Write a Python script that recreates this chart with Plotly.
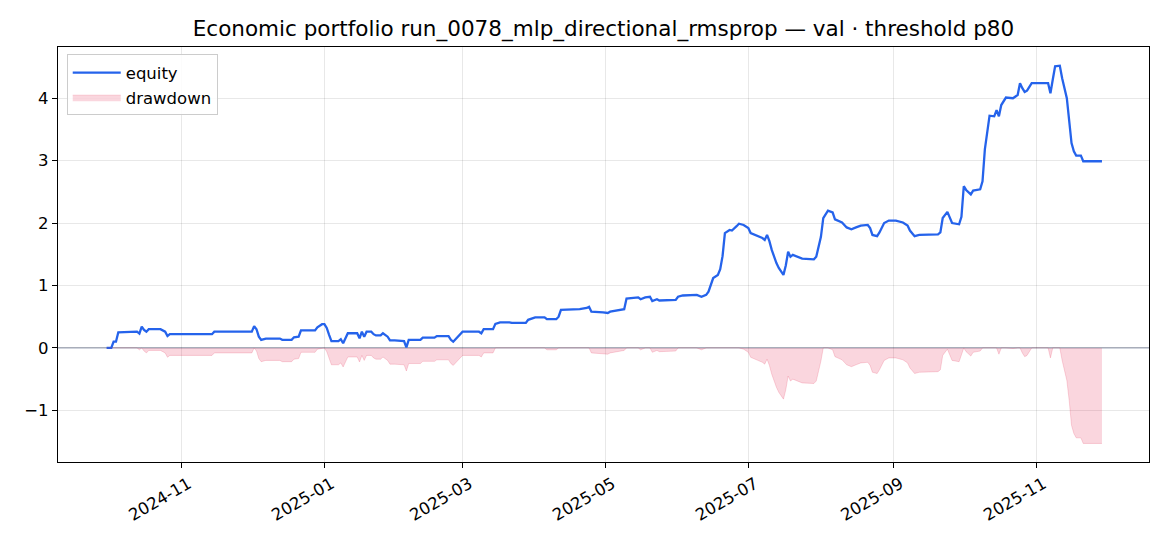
import numpy as np
import pandas as pd
import plotly.graph_objects as go

# --- DATA ---
dates = [
    "2024-09-30", "2024-10-02", "2024-10-03", "2024-10-04", "2024-10-05", "2024-10-13",
    "2024-10-14", "2024-10-15", "2024-10-16", "2024-10-17", "2024-10-18", "2024-10-23",
    "2024-10-25", "2024-10-26", "2024-10-27", "2024-11-14", "2024-11-15", "2024-12-01",
    "2024-12-02", "2024-12-03", "2024-12-04", "2024-12-05", "2024-12-07", "2024-12-13",
    "2024-12-14", "2024-12-18", "2024-12-19", "2024-12-21", "2024-12-22", "2024-12-28",
    "2024-12-29", "2024-12-31", "2025-01-01", "2025-01-02", "2025-01-03", "2025-01-04",
    "2025-01-07", "2025-01-08", "2025-01-09", "2025-01-10", "2025-01-11", "2025-01-15",
    "2025-01-16", "2025-01-17", "2025-01-18", "2025-01-19", "2025-01-21", "2025-01-22",
    "2025-01-23", "2025-01-25", "2025-01-26", "2025-01-28", "2025-01-29", "2025-01-31",
    "2025-02-02", "2025-02-04", "2025-02-05", "2025-02-06", "2025-02-11", "2025-02-12",
    "2025-02-17", "2025-02-18", "2025-02-23", "2025-02-24", "2025-02-25", "2025-02-27",
    "2025-03-01", "2025-03-08", "2025-03-09", "2025-03-10", "2025-03-14", "2025-03-15",
    "2025-03-17", "2025-03-21", "2025-03-22", "2025-03-28", "2025-03-29", "2025-04-01",
    "2025-04-05", "2025-04-06", "2025-04-10", "2025-04-11", "2025-04-12", "2025-04-20",
    "2025-04-23", "2025-04-24", "2025-04-25", "2025-04-30", "2025-05-02", "2025-05-03",
    "2025-05-08", "2025-05-09", "2025-05-10", "2025-05-14", "2025-05-15", "2025-05-16",
    "2025-05-18", "2025-05-20", "2025-05-21", "2025-05-23", "2025-05-24", "2025-05-31",
    "2025-06-01", "2025-06-03", "2025-06-09", "2025-06-11", "2025-06-13", "2025-06-14",
    "2025-06-16", "2025-06-18", "2025-06-19", "2025-06-20", "2025-06-21", "2025-06-23",
    "2025-06-24", "2025-06-26", "2025-06-27", "2025-06-29", "2025-07-01", "2025-07-02",
    "2025-07-04", "2025-07-07", "2025-07-08", "2025-07-09", "2025-07-10", "2025-07-11",
    "2025-07-13", "2025-07-14", "2025-07-16", "2025-07-17", "2025-07-18", "2025-07-19",
    "2025-07-20", "2025-07-22", "2025-07-24", "2025-07-29", "2025-07-30", "2025-08-01",
    "2025-08-02", "2025-08-04", "2025-08-06", "2025-08-07", "2025-08-09", "2025-08-10",
    "2025-08-12", "2025-08-14", "2025-08-16", "2025-08-18", "2025-08-21", "2025-08-22",
    "2025-08-23", "2025-08-25", "2025-08-26", "2025-08-28", "2025-08-30", "2025-09-02",
    "2025-09-05", "2025-09-07", "2025-09-08", "2025-09-10", "2025-09-12", "2025-09-20",
    "2025-09-21", "2025-09-22", "2025-09-24", "2025-09-25", "2025-09-26", "2025-09-29",
    "2025-09-30", "2025-10-01", "2025-10-02", "2025-10-04", "2025-10-05", "2025-10-08",
    "2025-10-09", "2025-10-10", "2025-10-12", "2025-10-14", "2025-10-15", "2025-10-16",
    "2025-10-17", "2025-10-19", "2025-10-22", "2025-10-24", "2025-10-25", "2025-10-26",
    "2025-10-27", "2025-10-28", "2025-10-30", "2025-11-06", "2025-11-07", "2025-11-08",
    "2025-11-09", "2025-11-11", "2025-11-12", "2025-11-14", "2025-11-15", "2025-11-16",
    "2025-11-17", "2025-11-18", "2025-11-20", "2025-11-21", "2025-11-29",
]

equity = [
    0.00, 0.00, 0.10, 0.10, 0.25, 0.26,
    0.23, 0.34, 0.29, 0.26, 0.30, 0.30,
    0.26, 0.19, 0.22, 0.22, 0.26, 0.26,
    0.35, 0.30, 0.18, 0.13, 0.15, 0.15,
    0.13, 0.13, 0.17, 0.18, 0.28, 0.28,
    0.33, 0.38, 0.38, 0.32, 0.21, 0.11,
    0.11, 0.14, 0.075, 0.155, 0.235, 0.235,
    0.155, 0.26, 0.18, 0.26, 0.26, 0.22,
    0.20, 0.20, 0.235, 0.18, 0.12, 0.12,
    0.11, 0.11, 0.01, 0.13, 0.13, 0.165,
    0.165, 0.19, 0.19, 0.13, 0.10, 0.18,
    0.26, 0.26, 0.235, 0.30, 0.30, 0.385,
    0.41, 0.41, 0.40, 0.40, 0.45, 0.49,
    0.49, 0.46, 0.46, 0.50, 0.61, 0.62,
    0.64, 0.66, 0.58, 0.57, 0.56, 0.58,
    0.61, 0.62, 0.79, 0.80, 0.81, 0.78,
    0.81, 0.82, 0.75, 0.78, 0.76, 0.77,
    0.82, 0.84, 0.85, 0.82, 0.85, 0.90,
    1.12, 1.17, 1.26, 1.47, 1.84, 1.89,
    1.88, 1.95, 1.99, 1.97, 1.92, 1.84,
    1.81, 1.76, 1.73, 1.81, 1.71, 1.57,
    1.36, 1.28, 1.17, 1.32, 1.54, 1.46,
    1.49, 1.46, 1.43, 1.42, 1.46, 1.78,
    2.08, 2.20, 2.17, 2.06, 2.02, 2.01,
    1.93, 1.90, 1.93, 1.96, 1.97, 1.92,
    1.81, 1.79, 1.85, 2.00, 2.04, 2.04,
    2.01, 1.96, 1.88, 1.79, 1.81, 1.82,
    1.85, 2.08, 2.18, 2.08, 2.00, 1.98,
    2.10, 2.59, 2.53, 2.46, 2.52, 2.54,
    2.67, 3.18, 3.72, 3.71, 3.81, 3.71,
    3.89, 4.01, 4.00, 4.05, 4.24, 4.16,
    4.10, 4.12, 4.24, 4.24, 4.08, 4.30,
    4.51, 4.52, 4.32, 4.00, 3.68, 3.28,
    3.15, 3.08, 3.08, 2.99, 2.99,
]

y_ticks = [-1, 0, 1, 2, 3, 4]
x_ticks = ["2024-11-01", "2025-01-01", "2025-03-01", "2025-05-01",
           "2025-07-01", "2025-09-01", "2025-11-01"]

title = "Economic portfolio run_0078_mlp_directional_rmsprop — val · threshold p80"

# --- DRAWDOWN ---
df = pd.DataFrame({"date": pd.to_datetime(dates), "equity": equity})
df["drawdown"] = df["equity"] - np.maximum.accumulate(df["equity"])

# --- CHART ---
font = "DejaVu Sans"
fig = go.Figure()

fig.add_trace(go.Scatter(
    x=df["date"], y=df["equity"], name="equity", mode="lines",
    line=dict(color="#2563eb", width=2.3),
))
fig.add_trace(go.Scatter(
    x=df["date"], y=df["drawdown"], name="drawdown", mode="lines",
    fill="tozeroy", fillcolor="rgba(225,29,72,0.18)",
    line=dict(color="rgba(225,29,72,0.22)", width=0.8),
))

fig.add_hline(y=0, line=dict(color="rgba(110,125,150,0.65)", width=1.2), layer="below")

fig.update_layout(
    width=1170, height=546,
    margin=dict(l=58, r=21, t=47, b=84),
    paper_bgcolor="white", plot_bgcolor="white",
    font=dict(family=font, size=16, color="black"),
    title=dict(text=title, x=(58 + 1149) / 2 / 1170, xanchor="center",
               y=1 - 28 / 546, yanchor="middle", font=dict(size=21.5)),
    legend=dict(x=0.008, y=0.982, xanchor="left", yanchor="top",
                bgcolor="rgba(255,255,255,0.85)", bordercolor="#cccccc",
                borderwidth=1, font=dict(size=16.5), itemwidth=48,
                tracegroupgap=4),
    showlegend=True,
)

fig.update_xaxes(
    type="date", range=["2024-09-09 06:00", "2025-12-19 02:00"],
    tickvals=x_ticks, tickformat="%Y-%m", tickangle=-30,
    ticklabelshift=7,
    showgrid=True, gridcolor="rgba(0,0,0,0.09)", gridwidth=1,
    showline=True, linecolor="black", linewidth=1.2, mirror=True,
    ticks="outside", ticklen=5, tickcolor="black", zeroline=False,
    tickfont=dict(size=16.5),
)
fig.update_yaxes(
    range=[-1.827, 4.82], tickvals=y_ticks,
    showgrid=True, gridcolor="rgba(0,0,0,0.09)", gridwidth=1,
    showline=True, linecolor="black", linewidth=1.2, mirror=True,
    ticks="outside", ticklen=5, tickcolor="black", zeroline=False,
    tickfont=dict(size=16.5),
)

fig.write_html("out.html", config={"displayModeBar": False},
               post_script="document.body.style.margin='0';")
